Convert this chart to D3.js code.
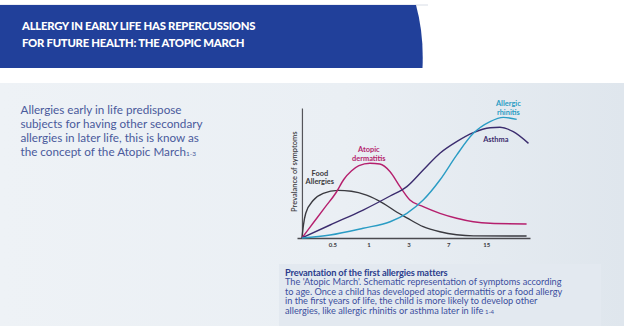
<!DOCTYPE html>
<html><head><meta charset="utf-8">
<script src="https://cdn.jsdelivr.net/npm/d3@7"></script>
<style>body{margin:0;background:#fff;}svg{display:block;}</style>
</head><body>
<script>
// ---- data ----
const titleLines = ["ALLERGY IN EARLY LIFE HAS REPERCUSSIONS", "FOR FUTURE HEALTH: THE ATOPIC MARCH"];
const introLines = ["Allergies early in life predispose", "subjects for having other secondary", "allergies in later life, this is know as", "the concept of the Atopic March"];
const introRef = "1-3";
const captionTitle = "Prevantation of the first allergies matters";
const captionLines = ["The 'Atopic March'. Schematic representation of symptoms according", "to age. Once a child has developed atopic dermatitis or a food allergy", "in the first years of life, the child is more likely to develop other", "allergies, like allergic rhinitis or asthma later in life"];
const captionRef = "1-4";
const yAxisLabel = "Prevalance of symptoms";
const tickLabels = ["0.5", "1", "3", "7", "15"];
const tickPositions = [0.8, 1.75, 2.8, 3.85, 4.85];

const foodAllergies = [[0,0],[0.04,10],[0.1,19],[0.3,29],[0.56,34.4],[0.95,36.6],[1.3,36],[1.7,33],[2.14,26.7],[2.5,19.8],[2.76,15.5],[3.19,8.7],[3.63,4.8],[4.07,2.5],[4.51,1.6],[5.91,1.5]];
const atopicDermatitis = [[0,0],[0.3,11.7],[0.6,23.4],[0.9,35],[1.1,45],[1.3,51.5],[1.5,55.6],[1.79,57.5],[2.05,56.9],[2.32,51],[2.58,39.5],[2.84,29.2],[3.19,24.1],[3.63,19],[4.07,15.2],[4.51,12.5],[4.95,11.3],[5.91,10.8]];
const asthma = [[0,0],[0.74,10],[1.61,21.5],[2.32,32.3],[2.76,39.5],[3.19,52.3],[3.63,65.2],[4.07,74.1],[4.51,81],[4.95,84.8],[5.21,85.2],[5.56,81.8],[5.96,72.8]];
const allergicRhinitis = [[0,0],[0.74,2.3],[1.61,7.5],[2.32,12.5],[2.76,19],[3.19,29.2],[3.63,44.6],[4.07,63.8],[4.51,80.5],[4.95,89.5],[5.3,92.8],[5.65,91.3]];

const series = [
  {name:"Food Allergies", label:["Food","Allergies"], data:foodAllergies, color:"#3a3a40", labelPos:[0.47,48]},
  {name:"Atopic dermatitis", label:["Atopic","dermatitis"], data:atopicDermatitis, color:"#b51f6d", labelPos:[1.76,66.2]},
  {name:"Asthma", label:["Asthma"], data:asthma, color:"#3b2c6e", labelPos:[5.1,73.5]},
  {name:"Allergic rhinitis", label:["Allergic","rhinitis"], data:allergicRhinitis, color:"#2a9cc4", labelPos:[5.43,101.5]}
];

// ---- drawing ----
const W = 624, H = 326;
const svg = d3.select("body").append("svg").attr("width", W).attr("height", H);
const defs = svg.append("defs");
const g1 = defs.append("linearGradient").attr("id","bg").attr("x1","0").attr("x2","1").attr("y1","0").attr("y2","0");
g1.append("stop").attr("offset","0").attr("stop-color","#eef2f6");
g1.append("stop").attr("offset","0.55").attr("stop-color","#eaeff4");
g1.append("stop").attr("offset","1").attr("stop-color","#dfe6ed");

svg.append("rect").attr("x",0).attr("y",0).attr("width",W).attr("height",H).attr("fill","#ffffff");
svg.append("rect").attr("x",0).attr("y",83).attr("width",W).attr("height",H-83).attr("fill","url(#bg)");
svg.append("rect").attr("x",279).attr("y",264).attr("width",322).attr("height",H-264).attr("fill","#e3e9f0");

// banner
svg.append("line").attr("x1",0).attr("x2",428).attr("y1",5).attr("y2",5).attr("stroke","#d8dde6").attr("stroke-width",1);
svg.append("path").attr("d","M0,5 H416 Q424,34 422.5,68 H0 Z").attr("fill","#21409a");
svg.append("g").selectAll("text").data(titleLines).join("text")
  .attr("x",22).attr("y",(d,i)=>30+i*16.5)
  .attr("fill","#ffffff").attr("font-family","Lato").attr("font-weight",900)
  .attr("font-size",11.3).attr("letter-spacing",-0.25).text(d=>d);

// intro text
const intro = svg.append("g").attr("font-family","Lato").attr("fill","#4a5a9c");
intro.selectAll("text").data(introLines).join("text")
  .attr("x",20.5).attr("y",(d,i)=>114+i*14)
  .attr("font-size",11.7).text(d=>d)
  .each(function(d,i){ if(i===introLines.length-1){ d3.select(this).append("tspan").attr("font-size",6.5).text(introRef);} });

// caption
const cap = svg.append("g").attr("font-family","Lato");
cap.append("text").attr("x",285).attr("y",275.5).attr("font-size",9.3).attr("font-weight",700)
  .attr("fill","#2b3d8c").attr("letter-spacing",-0.15).text(captionTitle);
cap.selectAll("text.l").data(captionLines).join("text").attr("class","l")
  .attr("x",285).attr("y",(d,i)=>285+i*9.5).attr("font-size",9.2).attr("fill","#3c4f9e")
  .text(d=>d)
  .each(function(d,i){ if(i===captionLines.length-1){ d3.select(this).append("tspan").attr("font-size",6).text(" "+captionRef);} });

// chart
const x = d3.scaleLinear().domain([-0.13, 6.0]).range([297, 530]);
const y = d3.scaleLinear().domain([0, 100]).range([238, 108]);

const xAxis = svg.append("g").attr("transform",`translate(0,${y(0)})`)
  .call(d3.axisBottom(x).tickValues(tickPositions).tickFormat((d,i)=>tickLabels[i]).tickSize(0).tickSizeOuter(0).tickPadding(5));
xAxis.select(".domain").attr("stroke","#4a4a4f").attr("stroke-width",1.4);
xAxis.selectAll("text").attr("font-family","Lato").attr("font-size",6).attr("font-weight",700).attr("fill","#3a3a40");

const yAxis = svg.append("g").attr("transform",`translate(${x(0)},0)`)
  .call(d3.axisLeft(y).tickValues([]).tickSize(0).tickSizeOuter(0));
yAxis.select(".domain").attr("stroke","#55555a").attr("stroke-width",1.2);

svg.append("text").attr("transform",`translate(${x(0)-5},${y(51)}) rotate(-90)`)
  .attr("text-anchor","middle").attr("font-family","Lato").attr("font-weight",600)
  .attr("font-size",7.5).attr("fill","#3a3a40").text(yAxisLabel);

const line = d3.line().x(d=>x(d[0])).y(d=>y(d[1])).curve(d3.curveMonotoneX);
svg.append("g").selectAll("path").data(series).join("path")
  .attr("d",d=>line(d.data)).attr("fill","none").attr("stroke",d=>d.color).attr("stroke-width",1.4);

const lbl = svg.append("g").selectAll("text").data(series).join("text")
  .attr("font-family","Lato").attr("font-weight",700).attr("font-size",7.4)
  .attr("text-anchor","middle").attr("fill",d=>d.color)
  .attr("transform",d=>`translate(${x(d.labelPos[0])},${y(d.labelPos[1])})`);
lbl.selectAll("tspan").data(d=>d.label).join("tspan").attr("x",0).attr("dy",(d,i)=>i===0?0:8.8).text(d=>d);
</script>
</body></html>
